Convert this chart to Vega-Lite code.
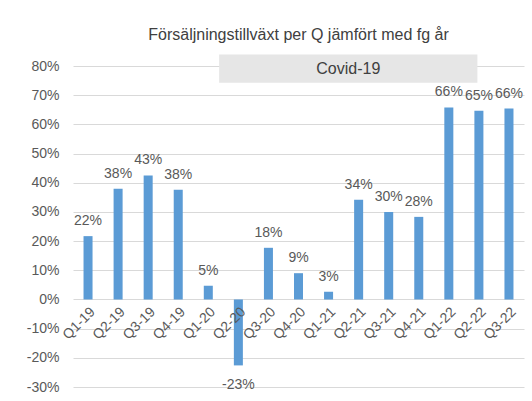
{
  "$schema": "https://vega.github.io/schema/vega-lite/v6.json",
  "autosize": {"type": "none"},
  "width": 451,
  "height": 321,
  "padding": {"left": 73, "top": 66, "right": 8, "bottom": 14},
  "background": "white",
  "config": {
    "view": {"stroke": null},
    "font": "Liberation Sans",
    "axis": {"labelFont": "Liberation Sans", "labelColor": "#595959", "labelFontSize": 14, "labelOverlap": false},
    "axisY": {"title": null, "values": [-30, -20, -10, 0, 10, 20, 30, 40, 50, 60, 70, 80], "labelExpr": "datum.value + '%'", "domain": false, "ticks": false, "labelPadding": 14, "gridColor": "#d9d9d9", "gridWidth": 1}
  },
  "title": {
    "text": "Försäljningstillväxt per Q jämfört med fg år",
    "fontSize": 16,
    "fontWeight": "normal",
    "color": "#404040",
    "anchor": "middle",
    "offset": 12
  },
  "datasets": {
    "growth": [
      {"q": "Q1-19", "v": 21.7, "label": "22%"},
      {"q": "Q2-19", "v": 37.9, "label": "38%"},
      {"q": "Q3-19", "v": 42.5, "label": "43%"},
      {"q": "Q4-19", "v": 37.6, "label": "38%"},
      {"q": "Q1-20", "v": 4.7, "label": "5%"},
      {"q": "Q2-20", "v": -22.6, "label": "-23%"},
      {"q": "Q3-20", "v": 17.7, "label": "18%"},
      {"q": "Q4-20", "v": 9.0, "label": "9%"},
      {"q": "Q1-21", "v": 2.6, "label": "3%"},
      {"q": "Q2-21", "v": 34.2, "label": "34%"},
      {"q": "Q3-21", "v": 30.0, "label": "30%"},
      {"q": "Q4-21", "v": 28.3, "label": "28%"},
      {"q": "Q1-22", "v": 65.8, "label": "66%"},
      {"q": "Q2-22", "v": 64.7, "label": "65%"},
      {"q": "Q3-22", "v": 65.4, "label": "66%"}
    ],
    "covid": [
      {"name": "Covid-19", "start": 4.86, "end": 13.45, "low": 74.3, "high": 83.9, "mid": 9.155, "center": 79.1}
    ]
  },
  "resolve": {"scale": {"x": "independent"}},
  "layer": [
    {
      "data": {"name": "growth"},
      "layer": [
        {
          "mark": {"type": "bar", "color": "#5b9bd5"},
          "encoding": {
            "x": {
              "field": "q", "type": "nominal", "sort": null,
              "scale": {"paddingInner": 0.7, "paddingOuter": 0.35},
              "axis": {"title": null, "labelAngle": -45, "domain": false, "ticks": false, "grid": false, "offset": -87.5, "labelPadding": 5, "zindex": 1}
            },
            "y": {
              "field": "v", "type": "quantitative", "title": null,
              "scale": {"domain": [-30, 80], "nice": false, "zero": false}
            }
          }
        },
        {
          "transform": [{"filter": "datum.v >= 0"}],
          "mark": {"type": "text", "baseline": "alphabetic", "dy": -11, "fontSize": 14, "color": "#595959"},
          "encoding": {
            "x": {"field": "q", "type": "nominal", "sort": null},
            "y": {"field": "v", "type": "quantitative", "title": null},
            "text": {"field": "label"}
          }
        },
        {
          "transform": [{"filter": "datum.v < 0"}],
          "mark": {"type": "text", "baseline": "top", "dy": 13, "fontSize": 14, "color": "#595959"},
          "encoding": {
            "x": {"field": "q", "type": "nominal", "sort": null},
            "y": {"field": "v", "type": "quantitative", "title": null},
            "text": {"field": "label"}
          }
        }
      ]
    },
    {
      "data": {"name": "covid"},
      "layer": [
        {
          "mark": {"type": "rect", "color": "#e6e6e6"},
          "encoding": {
            "x": {"field": "start", "type": "quantitative", "scale": {"domain": [0, 15], "nice": false, "zero": false}, "axis": null},
            "x2": {"field": "end"},
            "y": {"field": "low", "type": "quantitative", "title": null, "scale": {"domain": [-30, 80], "nice": false, "zero": false}},
            "y2": {"field": "high"}
          }
        },
        {
          "mark": {"type": "text", "fontSize": 16, "color": "#404040", "baseline": "middle"},
          "encoding": {
            "x": {"field": "mid", "type": "quantitative", "scale": {"domain": [0, 15], "nice": false, "zero": false}, "axis": null},
            "y": {"field": "center", "type": "quantitative", "title": null, "scale": {"domain": [-30, 80], "nice": false, "zero": false}},
            "text": {"field": "name"}
          }
        }
      ]
    }
  ]
}
